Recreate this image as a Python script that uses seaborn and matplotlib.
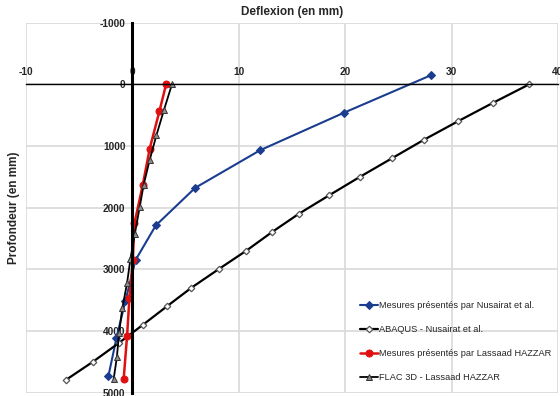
import matplotlib
matplotlib.use("Agg")
import matplotlib.pyplot as plt
import seaborn as sns

# profondeur (mm) / deflexion (mm)
nus_depth = [-150, 460, 1070, 1680, 2290, 2850, 3510, 4120, 4730]
nus_defl = [28.1, 19.9, 12.0, 5.9, 2.2, 0.3, -0.65, -1.5, -2.25]

abaqus_depth = [0, 300, 600, 900, 1200, 1500, 1800, 2100, 2400, 2700, 3000, 3300, 3600, 3900, 4200, 4500, 4790]
abaqus_defl = [37.3, 33.9, 30.6, 27.4, 24.4, 21.4, 18.5, 15.65, 13.1, 10.7, 8.1, 5.55, 3.26, 1.0, -1.3, -3.7, -6.2]

hazzar_depth = [0, 437, 1042, 1637, 2258, 2852, 3473, 4084, 4781]
hazzar_defl = [3.17, 2.54, 1.63, 0.97, 0.19, 0.04, -0.28, -0.5, -0.82]

flac_depth = [0, 410, 826, 1231, 1637, 1990, 2435, 2840, 3225, 3635, 4030, 4430, 4781]
flac_defl = [3.72, 2.98, 2.26, 1.62, 1.05, 0.69, 0.22, -0.19, -0.5, -0.95, -1.25, -1.46, -1.76]

labels = ["Mesures présentés par Nusairat et al.", "ABAQUS - Nusairat et al.",
          "Mesures présentés par Lassaad HAZZAR", "FLAC 3D - Lassaad HAZZAR"]

x_ticks = [-10, 0, 10, 20, 30, 40]
y_ticks = [-1000, 0, 1000, 2000, 3000, 4000, 5000]

sns.set_style("white")
plt.rcParams['font.family'] = ['Liberation Sans', 'DejaVu Sans']
plt.rcParams['axes.unicode_minus'] = False

fig = plt.figure(figsize=(5.6, 3.96), dpi=100)
ax = fig.add_axes([0.0464, 0.0088, 0.95, 0.934])

sns.lineplot(x=nus_defl, y=nus_depth, sort=False, estimator=None, ax=ax, color='#1a3d8f',
             linewidth=1.5, marker='D', markersize=4, markeredgecolor='#1a3d8f', label=labels[0])
sns.lineplot(x=abaqus_defl, y=abaqus_depth, sort=False, estimator=None, ax=ax, color='black',
             linewidth=1.6, marker='D', markersize=3.3, markerfacecolor='white',
             markeredgecolor='#555555', markeredgewidth=0.9, label=labels[1])
sns.lineplot(x=hazzar_defl, y=hazzar_depth, sort=False, estimator=None, ax=ax, color='#e01010',
             linewidth=1.8, marker='o', markersize=5, markeredgecolor='#e01010', label=labels[2])
sns.lineplot(x=flac_defl, y=flac_depth, sort=False, estimator=None, ax=ax, color='black',
             linewidth=1.3, marker='^', markersize=4.5, markerfacecolor='#8c8c8c',
             markeredgecolor='#333333', markeredgewidth=0.7, label=labels[3])

ax.set_xlim(-10, 40)
ax.set_ylim(5000, -1000)
ax.set_xticks(x_ticks)
ax.set_yticks(y_ticks)
ax.grid(True, color='#d9d9d9', linewidth=1.2)
ax.set_axisbelow(True)

# axes qui se croisent a l'origine, comme dans Excel
ax.spines['top'].set_position(('data', 0))
ax.spines['top'].set_color('black')
ax.spines['top'].set_linewidth(1.0)
ax.spines['left'].set_position(('data', 0))
ax.spines['left'].set_color('black')
ax.spines['left'].set_linewidth(2.2)
ax.spines['bottom'].set_visible(False)
ax.spines['right'].set_visible(False)
ax.xaxis.set_ticks_position('top')
ax.xaxis.set_label_position('bottom')
ax.tick_params(axis='x', length=0, pad=5, labelsize=7.3)
ax.tick_params(axis='y', length=0, pad=5, labelsize=7.3)
for t in ax.get_xticklabels() + ax.get_yticklabels():
    t.set_fontweight('bold')

ax.set_xlabel('')
ax.set_ylabel('')
fig.text(0.5214, 0.97, 'Deflexion (en mm)', ha='center', va='center', fontsize=8.5, fontweight='bold')
fig.text(0.025, 0.475, 'Profondeur (en mm)', ha='center', va='center', rotation=90,
         fontsize=8.5, fontweight='bold')

ax.legend(loc='center left', bbox_to_anchor=(0.628, 0.138), frameon=False, fontsize=6.7,
          handlelength=1.9, handletextpad=0.1, labelspacing=1.6, borderpad=0, borderaxespad=0)

fig.savefig('out.png', dpi=100)
